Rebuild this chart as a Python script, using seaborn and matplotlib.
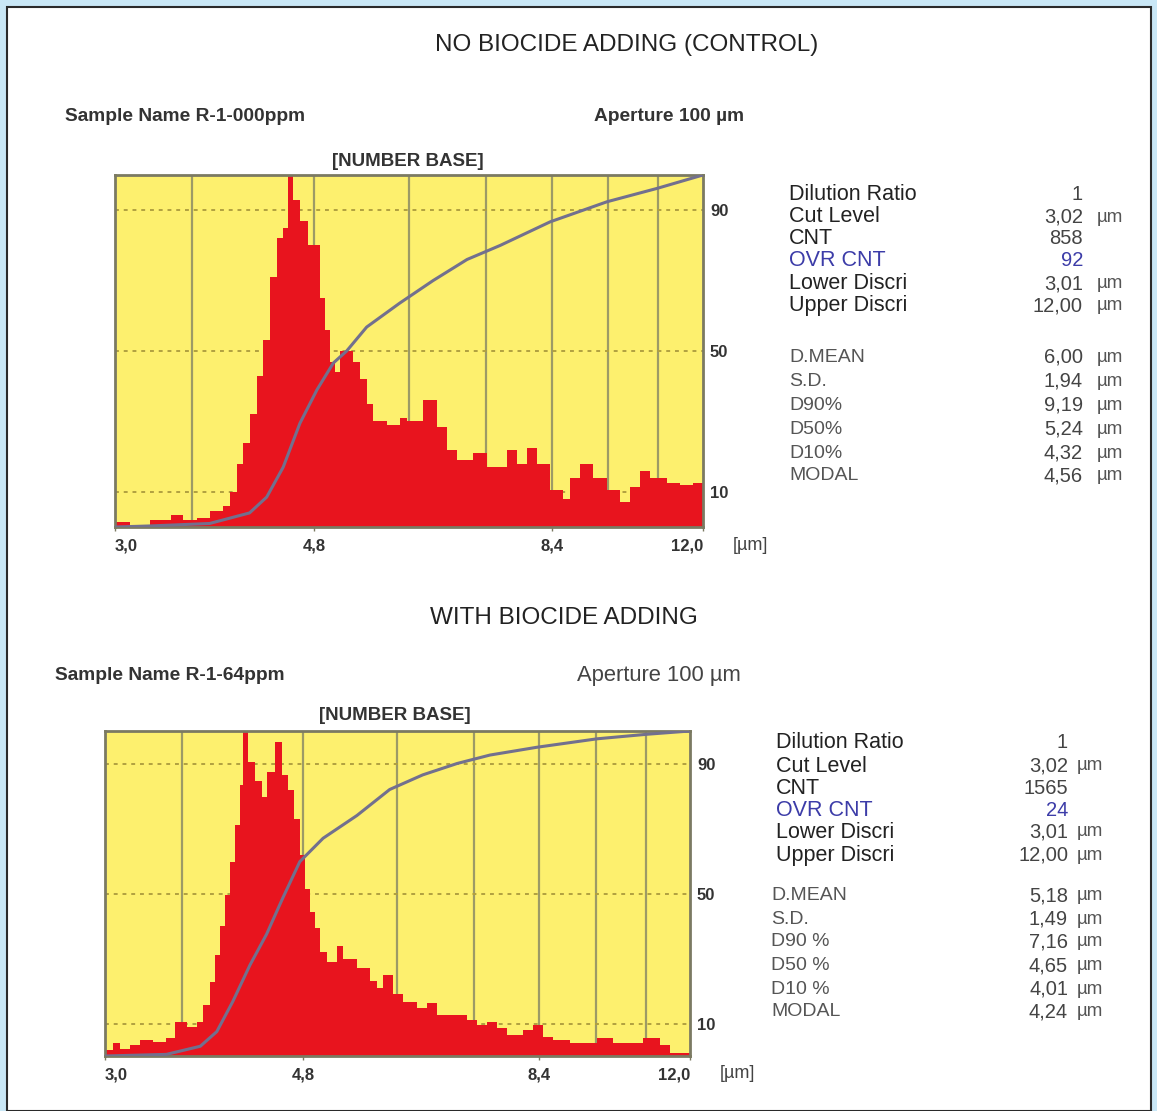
import numpy as np
import pandas as pd
import matplotlib
matplotlib.use("Agg")
import matplotlib.pyplot as plt
from matplotlib.patches import Rectangle
from matplotlib.ticker import NullLocator
import seaborn as sns

# ---------------- data ----------------
# control sample : bin edges in um (log axis) and relative counts (% of max)
ctrl_edges = [3.00, 3.11, 3.26, 3.42, 3.52, 3.64, 3.75, 3.87, 3.93, 4.00, 4.06, 4.12,
              4.19, 4.25, 4.32, 4.40, 4.46, 4.51, 4.56, 4.64, 4.73, 4.86, 4.92, 4.98,
              5.04, 5.10, 5.26, 5.35, 5.43, 5.51, 5.70, 5.87, 5.97, 6.20, 6.41, 6.56,
              6.72, 6.98, 7.21, 7.56, 7.74, 7.92, 8.11, 8.37, 8.63, 8.77, 8.98, 9.26,
              9.57, 9.87, 10.10, 10.34, 10.59, 11.02, 11.37, 11.72, 12.00]
ctrl_counts = [1.5, 0.5, 2, 3.5, 2, 2.5, 4.5, 6, 10, 18, 24,
               32, 43, 53, 71, 82, 85, 100, 93, 87, 80, 65, 56,
               47, 44, 50, 47, 42, 35, 30, 29, 31, 30, 36, 28.5,
               22, 19, 21, 17, 22, 18, 22.5, 18, 10.5, 8, 14, 18,
               14, 10.5, 7, 11.5, 16, 14, 12.5, 12, 12.5]
ctrl_cum_x = [3.00, 3.26, 3.75, 4.12, 4.29, 4.46, 4.64, 4.83, 5.02, 5.18, 5.43,
              5.87, 6.35, 6.88, 7.44, 8.37, 9.57, 10.77, 12.00]
ctrl_cum_y = [0, 0.3, 1, 4, 8.5, 17, 29.5, 39, 46.6, 50, 56.8,
              63.6, 70, 76, 80, 86.7, 92.4, 96.2, 100]

# biocide sample
bio_edges = [3.00, 3.06, 3.11, 3.18, 3.26, 3.36, 3.47, 3.54, 3.64, 3.73, 3.78, 3.85,
             3.89, 3.94, 3.99, 4.03, 4.08, 4.13, 4.16, 4.21, 4.28, 4.35, 4.40, 4.49,
             4.56, 4.63, 4.69, 4.76, 4.82, 4.88, 4.93, 4.99, 5.08, 5.20, 5.27, 5.45,
             5.62, 5.72, 5.80, 5.94, 6.08, 6.28, 6.43, 6.59, 7.07, 7.24, 7.42, 7.60,
             7.78, 8.08, 8.27, 8.47, 8.67, 9.03, 9.63, 10.00, 10.74, 11.18, 11.44, 12.00]
bio_counts = [1.8, 3.9, 2.3, 3.3, 4.9, 4.4, 5.4, 10.5, 9, 10.5, 15.6,
              22.8, 31, 40, 49.5, 59.8, 71, 83.4, 100, 90.6, 84.5, 79.8, 87.5,
              96.7, 86.4, 82, 73, 62, 51.5, 44.4, 39.3, 32, 29, 34, 30,
              27, 23, 21, 25, 19, 16.7, 14.7, 16.2, 12.6, 11, 9.5, 10.5,
              8.5, 6.4, 8, 9.5, 6, 5, 4, 5.5, 4, 5.5, 3.4, 0.9]
bio_cum_x = [3.00, 3.47, 3.76, 3.91, 4.06, 4.23, 4.40, 4.57, 4.76, 5.03, 5.45,
             5.89, 6.37, 6.91, 7.47, 8.35, 9.63, 10.84, 12.00]
bio_cum_y = [0, 0.5, 3, 7.5, 16.7, 28, 37.5, 48.5, 59.8, 67, 74,
             82, 86.5, 90, 92.6, 95, 97.6, 99, 100]

xtick_vals = [3.0, 4.8, 8.4, 12.0]
xtick_text = ["3,0", "4,8", "8,4", "12,0"]
grid_x = [3.6, 4.8, 6.0, 7.2, 8.4, 9.6, 10.8]
grid_y = [10, 50, 90]

info_labels = ["Dilution Ratio", "Cut Level", "CNT", "OVR CNT", "Lower Discri", "Upper Discri"]
info_units = ["", "\u00b5m", "", "", "\u00b5m", "\u00b5m"]
ctrl_info = ["1", "3,02", "858", "92", "3,01", "12,00"]
bio_info = ["1", "3,02", "1565", "24", "3,01", "12,00"]

ctrl_stat_labels = ["D.MEAN", "S.D.", "D90%", "D50%", "D10%", "MODAL"]
bio_stat_labels = ["D.MEAN", "S.D.", "D90 %", "D50 %", "D10 %", "MODAL"]
ctrl_stats = ["6,00", "1,94", "9,19", "5,24", "4,32", "4,56"]
bio_stats = ["5,18", "1,49", "7,16", "4,65", "4,01", "4,24"]

# ---------------- style ----------------
sns.set_style("white")
plt.rcParams['font.family'] = ['Liberation Sans', 'DejaVu Sans']

YELLOW = "#fdf06e"
RED = "#e8141e"
LINE = "#72708e"
FRAME = "#7b7a62"
GRIDC = "#9c9a66"
BLUE = "#3c3ca8"

W, H = 1157, 1111
fig = plt.figure(figsize=(W / 100, H / 100), dpi=100)
fig.patch.set_facecolor("#c9e7f6")
fig.patches.append(Rectangle((7 / W, 0), (1151 - 7) / W, 1 - 7 / H, transform=fig.transFigure,
                             facecolor="white", edgecolor="#2a2a2a", lw=1.5, zorder=-5))


def fx(x):
    return x / W


def fy(y):
    return 1 - y / H


def draw_panel(left, top, right, bottom, edges, counts, cum_x, cum_y):
    ax = fig.add_axes([fx(left), fy(bottom), fx(right - left), (bottom - top) / H])
    ax.set_facecolor(YELLOW)
    ax.set_xscale("log")
    ax.set_xlim(3.0, 12.0)
    ax.set_ylim(0, 100)
    for g in grid_x:
        ax.axvline(g, color=GRIDC, lw=1.6, zorder=1)
    for g in grid_y:
        ax.axhline(g, color="#b0a040", lw=1.4, ls=(0, (2, 2.5)), zorder=1)
    ax.stairs(counts, edges, fill=True, color=RED, lw=0, zorder=2)
    df = pd.DataFrame({"size": cum_x, "cum": cum_y})
    sns.lineplot(data=df, x="size", y="cum", ax=ax, color=LINE, lw=2.2, zorder=3)
    ax.set_xlabel("")
    ax.set_ylabel("")
    ax.xaxis.set_minor_locator(NullLocator())
    ax.set_xticks(xtick_vals)
    ax.set_xticklabels(xtick_text, fontsize=12, fontweight="bold", color="#333333")
    labs = ax.get_xticklabels()
    labs[0].set_ha("left")
    labs[-1].set_ha("right")
    ax.tick_params(axis="x", length=3, width=1, color=FRAME, pad=5, bottom=True)
    ax.yaxis.tick_right()
    ax.set_yticks(grid_y)
    ax.set_yticklabels([str(v) for v in grid_y], fontsize=12, fontweight="bold", color="#333333")
    ax.tick_params(axis="y", length=0, pad=5)
    for s in ax.spines.values():
        s.set_visible(True)
        s.set_color(FRAME)
        s.set_linewidth(2)
    return ax


def draw_info(lab_x, lab_x2, val_x, unit_x, ys1, ys2, vals, stat_labels, stats):
    for i, lab in enumerate(info_labels):
        col = BLUE if lab == "OVR CNT" else "#222222"
        fig.text(fx(lab_x), fy(ys1[i]), lab, fontsize=15.5, color=col, va="center", ha="left")
        vcol = BLUE if lab == "OVR CNT" else "#444444"
        fig.text(fx(val_x), fy(ys1[i]), vals[i], fontsize=14.5, color=vcol, va="center", ha="right")
        if info_units[i]:
            fig.text(fx(unit_x), fy(ys1[i]), info_units[i], fontsize=13.5, color="#555555",
                     va="center", ha="left")
    for i, lab in enumerate(stat_labels):
        fig.text(fx(lab_x2), fy(ys2[i]), lab, fontsize=14, color="#555555", va="center", ha="left")
        fig.text(fx(val_x), fy(ys2[i]), stats[i], fontsize=14.5, color="#444444", va="center", ha="right")
        fig.text(fx(unit_x), fy(ys2[i]), "\u00b5m", fontsize=13.5, color="#555555", va="center", ha="left")


# ---------------- top panel ----------------
fig.text(fx(627), fy(45), "NO BIOCIDE ADDING (CONTROL)", fontsize=17.5, ha="center", va="center", color="#222222")
fig.text(fx(65), fy(116), "Sample Name R-1-000ppm", fontsize=13.8, fontweight="bold", ha="left", va="center", color="#333333")
fig.text(fx(594), fy(116), "Aperture 100 \u00b5m", fontsize=13.8, fontweight="bold", ha="left", va="center", color="#333333")
fig.text(fx(408), fy(161), "[NUMBER BASE]", fontsize=13.5, fontweight="bold", ha="center", va="center", color="#333333")
draw_panel(115, 175, 703, 527, ctrl_edges, ctrl_counts, ctrl_cum_x, ctrl_cum_y)
fig.text(fx(733), fy(546), "[\u00b5m]", fontsize=13, ha="left", va="center", color="#444444")
draw_info(789, 789, 1083, 1097,
          [194, 217, 239, 261, 284, 306], [357, 381, 405, 429, 453, 476],
          ctrl_info, ctrl_stat_labels, ctrl_stats)

# ---------------- bottom panel ----------------
fig.text(fx(564), fy(618), "WITH BIOCIDE ADDING", fontsize=17.5, ha="center", va="center", color="#222222")
fig.text(fx(55), fy(675), "Sample Name R-1-64ppm", fontsize=13.8, fontweight="bold", ha="left", va="center", color="#333333")
fig.text(fx(577), fy(676), "Aperture 100 \u00b5m", fontsize=15.8, ha="left", va="center", color="#444444")
fig.text(fx(395), fy(715), "[NUMBER BASE]", fontsize=13.5, fontweight="bold", ha="center", va="center", color="#333333")
draw_panel(105, 731, 690, 1056, bio_edges, bio_counts, bio_cum_x, bio_cum_y)
fig.text(fx(720), fy(1074), "[\u00b5m]", fontsize=13, ha="left", va="center", color="#444444")
draw_info(776, 771, 1068, 1077,
          [743, 766, 788, 810, 832, 855], [896, 919, 942, 966, 989, 1012],
          bio_info, bio_stat_labels, bio_stats)

fig.savefig("out.png", dpi=100, facecolor=fig.get_facecolor())
